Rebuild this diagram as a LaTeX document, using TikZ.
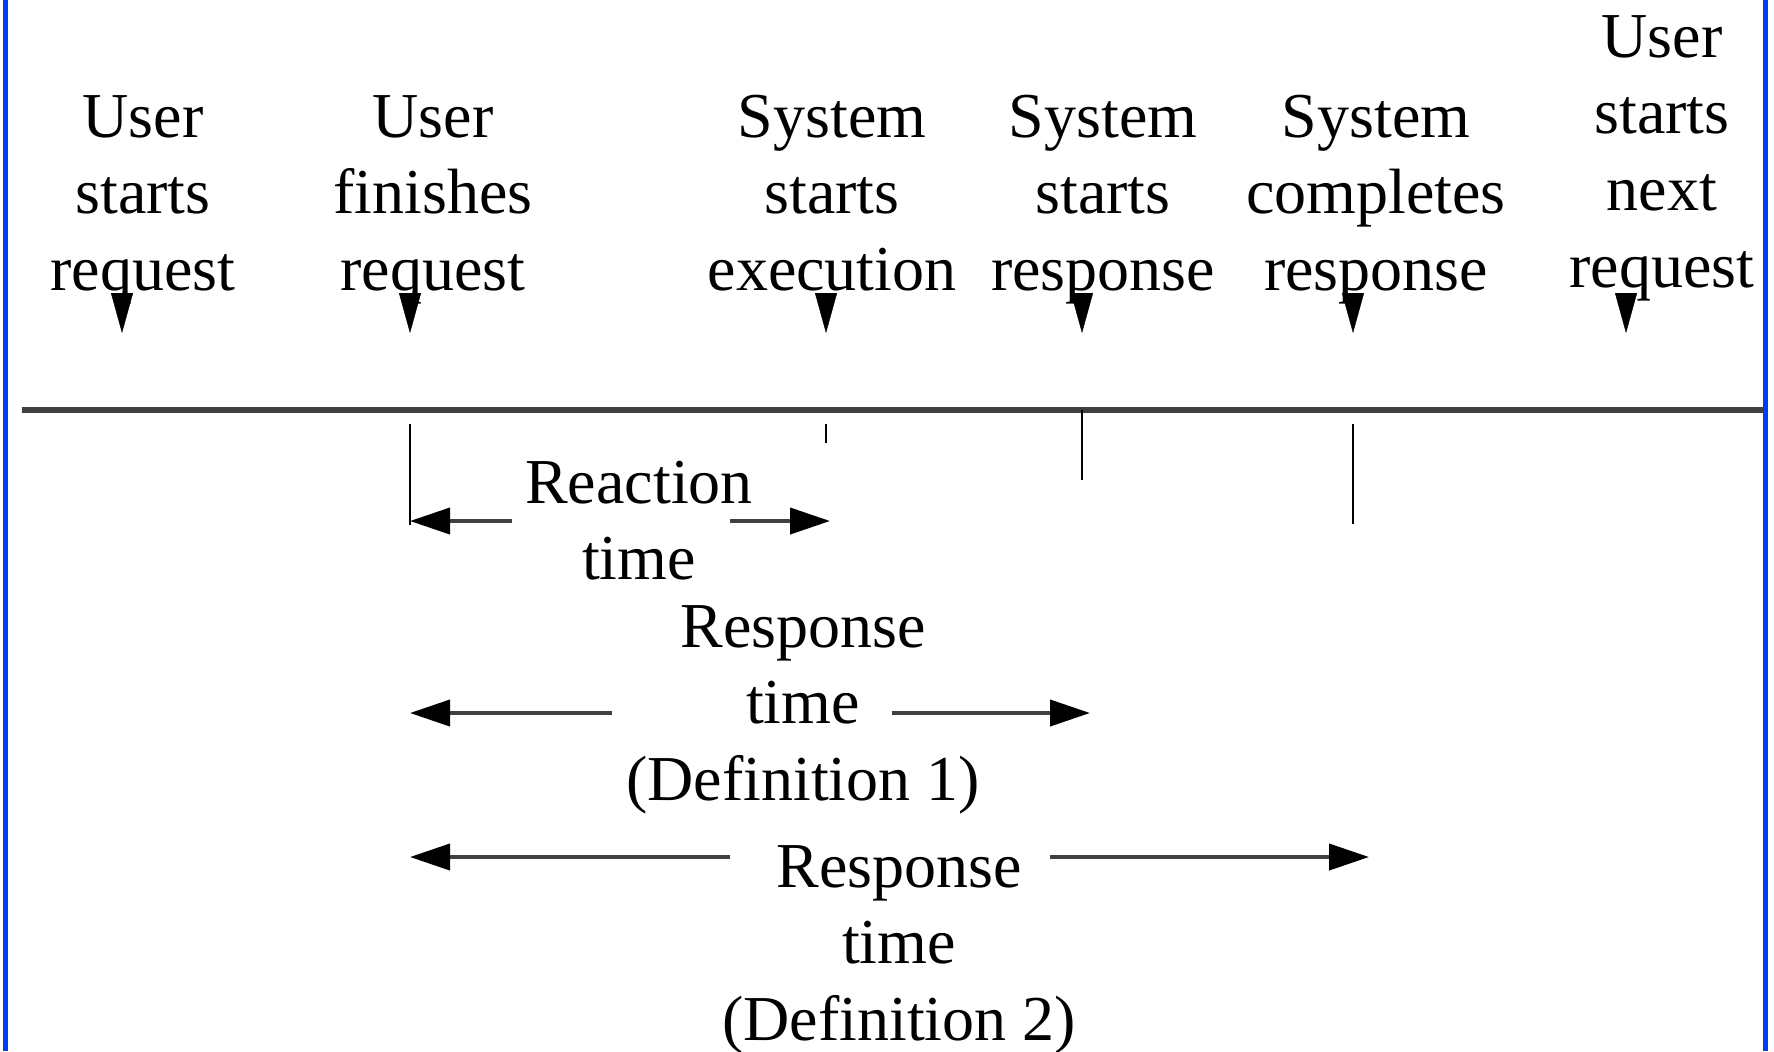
\documentclass[tikz,border=0pt]{standalone}
\usepackage{fontspec}
\setmainfont{Liberation Serif}
\usetikzlibrary{arrows.meta}
\definecolor{frameblue}{RGB}{0,60,240}
\definecolor{linegray}{RGB}{64,64,64}
\tikzset{
  lbl/.style={anchor=base, inner sep=0pt, font=\fontsize{16}{19.2}\selectfont},
  marker/.style={-{Triangle[length=10pt,width=5.5pt]}, line width=0.1pt, black},
  tick/.style={line width=0.5pt, black},
  span/.style={line width=1pt, linegray, -{Triangle[length=10pt,width=6.5pt,color=black]}},
}
\newcommand{\stk}[1]{\begin{tabular}[t]{@{}c@{}}#1\end{tabular}}
\begin{document}
\begin{tikzpicture}[x=0.25pt,y=-0.25pt]
\useasboundingbox (0,0) rectangle (1774,1051);
% frame sides
\draw[frameblue, line width=1.25pt] (5,0) -- (5,1051);
\draw[frameblue, line width=1.25pt] (1765.5,0) -- (1765.5,1051);
% time line
\coordinate (lineL) at (22,410);
\coordinate (lineR) at (1763,410);
\draw[linegray, line width=1.5pt] (lineL) -- (lineR);
% event labels
\node[lbl] (e1) at (143,137) {\stk{User\\starts\\request}};
\node[lbl] (e2) at (433,137) {\stk{User\\finishes\\request}};
\node[lbl] (e3) at (832,137) {\stk{System\\starts\\execution}};
\node[lbl] (e4) at (1103,137) {\stk{System\\starts\\response}};
\node[lbl] (e5) at (1376,137) {\stk{System\\completes\\response}};
\node[lbl] (e6) at (1662,57) {\stk{User\\starts\\next\\request}};
% markers
\foreach \n/\x in {1/122,2/410,3/826,4/1082,5/1353,6/1626}{
  \coordinate (m\n a) at (\x,293);
  \coordinate (m\n b) at (\x,333);
  \draw[marker] (m\n a) -- (m\n b);
}
% ticks
\coordinate (k2a) at (410,424); \coordinate (k2b) at (410,525);
\coordinate (k3a) at (826,424); \coordinate (k3b) at (826,443);
\coordinate (k4a) at (1082,410); \coordinate (k4b) at (1082,480);
\coordinate (k5a) at (1353,424); \coordinate (k5b) at (1353,524);
\draw[tick] (k2a) -- (k2b);
\draw[tick] (k3a) -- (k3b);
\draw[tick] (k4a) -- (k4b);
\draw[tick] (k5a) -- (k5b);
% reaction time
\node[lbl] (rt) at (639,503) {\stk{Reaction\\time}};
\coordinate (rtL0) at (512,521); \coordinate (rtL) at (410,521);
\coordinate (rtR0) at (730,521); \coordinate (rtR) at (830,521);
\draw[span] (rtL0) -- (rtL);
\draw[span] (rtR0) -- (rtR);
% response time 1
\node[lbl] (r1) at (803,647) {\stk{Response\\time\\(Definition 1)}};
\coordinate (r1L0) at (612,713); \coordinate (r1L) at (410,713);
\coordinate (r1R0) at (892,713); \coordinate (r1R) at (1090,713);
\draw[span] (r1L0) -- (r1L);
\draw[span] (r1R0) -- (r1R);
% response time 2
\node[lbl] (r2) at (899,887) {\stk{Response\\time\\(Definition 2)}};
\coordinate (r2L0) at (730,857); \coordinate (r2L) at (410,857);
\coordinate (r2R0) at (1050,857); \coordinate (r2R) at (1369,857);
\draw[span] (r2L0) -- (r2L);
\draw[span] (r2R0) -- (r2R);
\end{tikzpicture}
\end{document}
